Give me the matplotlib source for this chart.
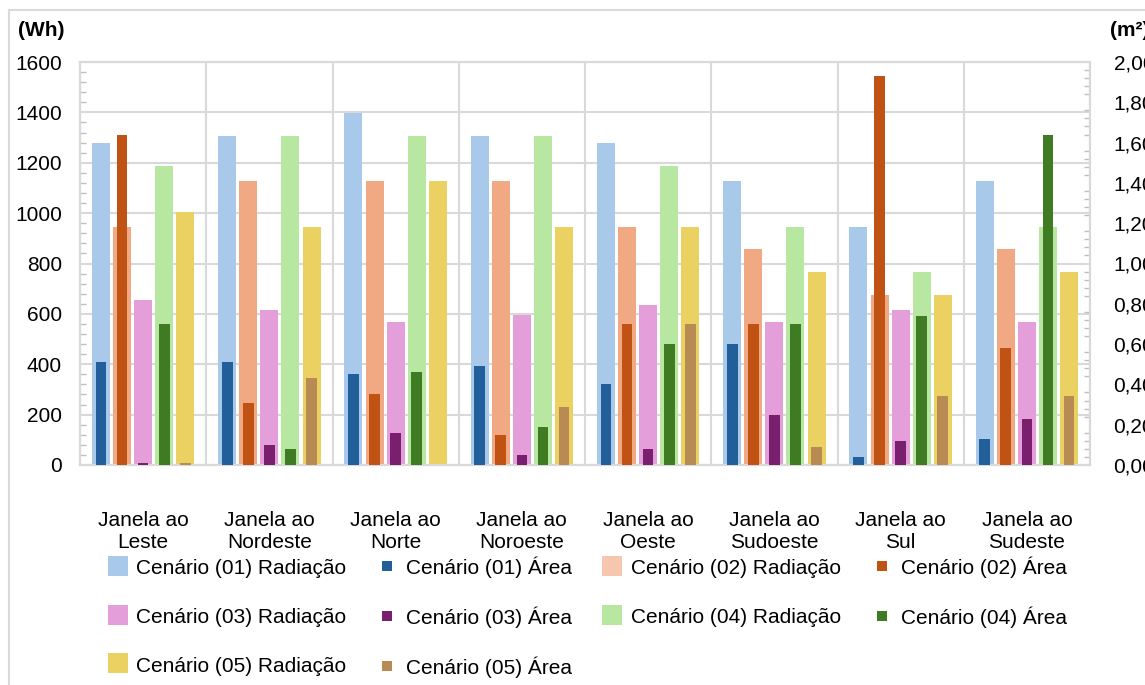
import numpy as np
import matplotlib.pyplot as plt
from matplotlib.lines import Line2D
from matplotlib.ticker import MultipleLocator, FuncFormatter

plt.rcParams['font.family'] = ['Liberation Sans', 'DejaVu Sans']

janelas = ['Janela ao\nLeste', 'Janela ao\nNordeste', 'Janela ao\nNorte', 'Janela ao\nNoroeste',
           'Janela ao\nOeste', 'Janela ao\nSudoeste', 'Janela ao\nSul', 'Janela ao\nSudeste']

# radiacao (Wh) por cenario
rad_01 = [1277, 1307, 1396, 1307, 1277, 1126, 946, 1126]
rad_02 = [946, 1126, 1126, 1126, 946, 857, 675, 857]
rad_03 = [654, 615, 567, 596, 636, 567, 615, 567]
rad_04 = [1187, 1307, 1307, 1307, 1187, 946, 766, 946]
rad_05 = [1005, 946, 1126, 946, 946, 766, 675, 766]

# area (m2) por cenario
area_01 = [0.51, 0.51, 0.45, 0.49, 0.40, 0.60, 0.04, 0.13]
area_02 = [1.64, 0.31, 0.35, 0.15, 0.70, 0.70, 1.93, 0.58]
area_03 = [0.01, 0.10, 0.16, 0.05, 0.08, 0.25, 0.12, 0.23]
area_04 = [0.70, 0.08, 0.46, 0.19, 0.60, 0.70, 0.74, 1.64]
area_05 = [0.01, 0.43, 0.00, 0.29, 0.70, 0.09, 0.34, 0.34]

radiacao = [rad_01, rad_02, rad_03, rad_04, rad_05]
areas = [area_01, area_02, area_03, area_04, area_05]
cor_rad = ['#a9c9eb', '#f0a982', '#e49fda', '#b8e7a1', '#ebd062']
cor_rad_leg = ['#a9c9eb', '#f6c7ae', '#e49fda', '#b8e7a1', '#ebd062']
cor_area = ['#215e9a', '#c05313', '#7a1f6d', '#3e7b22', '#b88b55']
cenarios = ['01', '02', '03', '04', '05']

fs = 15
fig = plt.figure(figsize=(11.45, 6.85), dpi=100)
ax = fig.add_axes([80/1145, 1-465/685, 1010/1145, 403/685])
ax2 = ax.twinx()

x = np.arange(len(janelas))
passo = 0.167
for k in range(5):
    pos = x + (k - 2) * passo
    ax.bar(pos, radiacao[k], width=0.143, color=cor_rad[k], zorder=2)
    ax2.bar(pos, areas[k], width=0.085, color=cor_area[k], zorder=3)

grid_c = '#d9d9d9'
ax.set_xlim(-0.5, 7.5)
ax.set_ylim(0, 1600)
ax2.set_ylim(0, 2.0)
ax.set_xticks(x)
ax.set_xticklabels(janelas, fontsize=fs, linespacing=1.2)
ax.set_xticks(np.arange(-0.5, 8), minor=True)
ax.yaxis.set_major_locator(MultipleLocator(200))
ax.yaxis.set_minor_locator(MultipleLocator(40))
ax2.yaxis.set_major_locator(MultipleLocator(0.2))
ax2.yaxis.set_minor_locator(MultipleLocator(0.04))
ax2.yaxis.set_major_formatter(FuncFormatter(lambda v, p: f'{v:.2f}'.replace('.', ',')))

ax.grid(axis='y', which='major', color=grid_c, lw=1.5, zorder=0)
ax.grid(axis='x', which='minor', color=grid_c, lw=1.5, zorder=0)
ax.set_axisbelow(True)

ax.tick_params(axis='x', which='both', length=0, pad=33)
ax.tick_params(axis='y', which='major', length=0, labelsize=fs, pad=13)
ax.tick_params(axis='y', which='minor', length=4, width=1, direction='in', color='#bfbfbf')
ax2.tick_params(axis='y', which='major', length=0, labelsize=fs, pad=17)
ax2.tick_params(axis='y', which='minor', length=4, width=1, direction='in', color='#bfbfbf')

for a in (ax, ax2):
    for s in a.spines.values():
        s.set_color(grid_c)
        s.set_linewidth(1.5)

fig.text(18/1145, 1-31/685, '(Wh)', fontsize=fs, fontweight='bold', va='center', ha='left')
fig.text(1110/1145, 1-31/685, '(m²)', fontsize=fs, fontweight='bold', va='center', ha='left')

# moldura externa
fig.add_artist(Line2D([9/1145, 9/1145], [0, 1-10/685], color=grid_c, lw=1.5))
fig.add_artist(Line2D([9/1145, 1], [1-10/685, 1-10/685], color=grid_c, lw=1.5))

# legenda: linha a linha (Radiacao/Area alternando)
h_rad = [Line2D([], [], ls='none', marker='s', markersize=14, markeredgewidth=0, color=c) for c in cor_rad_leg]
h_area = [Line2D([], [], ls='none', marker='s', markersize=7, markeredgewidth=0, color=c) for c in cor_area]
l_rad = [f'Cenário ({c}) Radiação' for c in cenarios]
l_area = [f'Cenário ({c}) Área' for c in cenarios]
ordem = [(0, 'r'), (2, 'r'), (4, 'r'), (0, 'a'), (2, 'a'), (4, 'a'), (1, 'r'), (3, 'r'), (1, 'a'), (3, 'a')]
handles = [h_rad[i] if t == 'r' else h_area[i] for i, t in ordem]
labels = [l_rad[i] if t == 'r' else l_area[i] for i, t in ordem]
fig.legend(handles, labels, loc='upper left', bbox_to_anchor=(105/1145, 1-557/685), ncol=4,
           frameon=False, fontsize=fs, borderpad=0, borderaxespad=0, handlelength=1.2,
           handleheight=1.0, handletextpad=0.3, columnspacing=1.35, labelspacing=1.35)

fig.savefig('out.png', dpi=100)
